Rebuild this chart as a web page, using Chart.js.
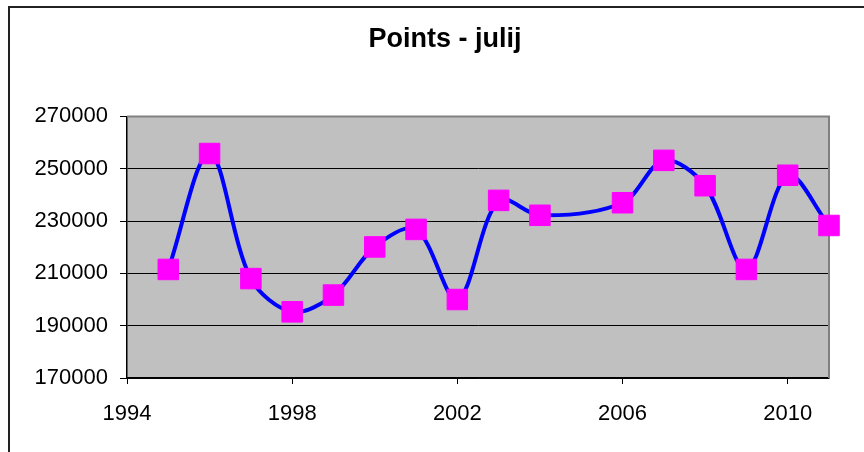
<!DOCTYPE html>
<html>
<head>
<meta charset="utf-8">
<script src="https://cdn.jsdelivr.net/npm/chart.js@4/dist/chart.umd.min.js"></script>
<style>
  html, body { margin: 0; padding: 0; background: #fff; overflow: hidden; }
  canvas { display: block; }
</style>
</head>
<body>
<canvas id="points-chart" width="864" height="452"></canvas>
<script>
// podatki - julij
const years = [1995, 1996, 1997, 1998, 1999, 2000, 2001, 2002, 2003, 2004, 2006, 2007, 2008, 2009, 2010, 2011];
const points = [211500, 255800, 208000, 195300, 201700, 220100, 226800, 200000, 237900, 232200, 237000, 253200, 243500, 211500, 247500, 228300];
const xTicks = [1994, 1998, 2002, 2006, 2010];
const yMin = 170000, yMax = 270000, yStep = 20000;

const fontFamily = '"Liberation Sans", Arial, sans-serif';

// ozadje, okvir plot area in zunanji okvir
const framePlugin = {
    id: 'frame',
    beforeDraw(chart) {
        const { ctx, chartArea: a } = chart;
        ctx.save();
        ctx.fillStyle = '#fff';
        ctx.fillRect(0, 0, chart.width, chart.height);
        ctx.fillStyle = '#C0C0C0';
        ctx.fillRect(a.left, a.top, a.right - a.left, a.bottom - a.top);
        ctx.strokeStyle = '#222';
        ctx.lineWidth = 2;
        ctx.beginPath();
        ctx.moveTo(9, chart.height);
        ctx.lineTo(9, 7);
        ctx.lineTo(chart.width, 7);
        ctx.stroke();
        ctx.restore();
    },
    beforeDatasetsDraw(chart) {
        const { ctx, chartArea: a } = chart;
        ctx.save();
        ctx.strokeStyle = '#808080';
        ctx.lineWidth = 2;
        ctx.beginPath();
        ctx.moveTo(a.left, a.top);
        ctx.lineTo(a.right, a.top);
        ctx.lineTo(a.right, a.bottom);
        ctx.stroke();
        ctx.restore();
    }
};

new Chart(document.getElementById('points-chart'), {
    type: 'line',
    data: {
        datasets: [{
            label: 'Points',
            data: years.map((y, i) => ({ x: y, y: points[i] })),
            borderColor: '#0000FF',
            borderWidth: 4,
            tension: 0.33,
            fill: false,
            clip: false,
            pointStyle: 'rect',
            pointRadius: 14.5,
            pointBackgroundColor: '#FF00FF',
            pointBorderColor: '#FF00FF',
            pointBorderWidth: 1
        }]
    },
    options: {
        responsive: false,
        animation: false,
        devicePixelRatio: 1,
        // negativni desni odmik, da je naslov centriran kot v Excelu
        layout: { padding: { left: 0, right: -26, top: 0, bottom: 0 } },
        plugins: {
            legend: { display: false },
            tooltip: { enabled: false },
            title: {
                display: true,
                text: 'Points - julij',
                color: '#000',
                font: { family: fontFamily, size: 27, weight: 'bold' },
                padding: { top: 23, bottom: 61 }
            }
        },
        scales: {
            x: {
                type: 'linear',
                min: 1994,
                max: 2011,
                afterBuildTicks: (scale) => { scale.ticks = xTicks.map(v => ({ value: v })); },
                afterFit: (scale) => { scale.height = 74; },
                grid: { display: true, drawOnChartArea: false, drawTicks: true, tickLength: 6, tickColor: '#000' },
                border: { display: true, color: '#000', width: 1.5 },
                ticks: {
                    color: '#000',
                    padding: 17,
                    maxRotation: 0,
                    font: { family: fontFamily, size: 22 },
                    callback: (v) => String(v)
                }
            },
            y: {
                min: yMin,
                max: yMax,
                afterFit: (scale) => { scale.width = 127; },
                grid: {
                    color: (c) => c.tick && c.tick.value === yMax ? 'rgba(0,0,0,0)' : '#000',
                    lineWidth: 1,
                    tickLength: 7,
                    tickColor: '#000'
                },
                border: { display: true, color: '#000', width: 1.5 },
                ticks: {
                    stepSize: yStep,
                    color: '#000',
                    padding: 12,
                    font: { family: fontFamily, size: 22 },
                    callback: (v) => String(v)
                }
            },
            // prazna desna os samo za prostor
            yRight: {
                position: 'right',
                min: yMin,
                max: yMax,
                afterFit: (scale) => { scale.width = 61; },
                grid: { display: false, drawOnChartArea: false },
                border: { display: false },
                ticks: { display: false }
            }
        }
    },
    plugins: [framePlugin]
});
</script>
</body>
</html>
